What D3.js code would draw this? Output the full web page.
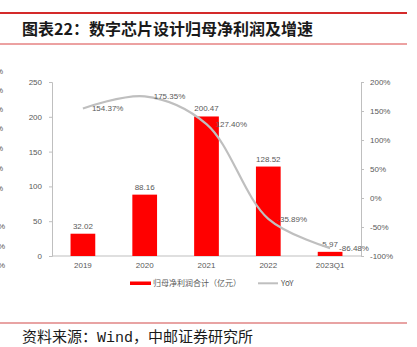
<!DOCTYPE html>
<html>
<head>
<meta charset="utf-8">
<script src="https://cdn.jsdelivr.net/npm/d3@7"></script>
<style>
  html, body { margin: 0; padding: 0; background: #fff; }
  svg { display: block; }
</style>
</head>
<body>
<script>
// Net profit attributable to parent (digital chip design) and YoY growth
const categories = ["2019", "2020", "2021", "2022", "2023Q1"];
const profit = [32.02, 88.16, 200.47, 128.52, 5.97];
const yoy = [154.37, 175.35, 127.40, -35.89, -86.48];
const leftTicks = [0, 50, 100, 150, 200, 250];
const rightTicks = [-100, -50, 0, 50, 100, 150, 200];
const edgeMarks = [71, 90, 109, 128, 148, 168, 188, 226, 246, 265];

const W = 417, H = 347;
const svg = d3.select("body").append("svg").attr("width", W).attr("height", H);

const textColor = "#595959";
const axisColor = "#BFBFBF";
const chartFont = "'Liberation Sans', Arial, sans-serif";

// partial labels along the left edge
svg.append("g").selectAll("text").data(edgeMarks).join("text")
  .attr("x", (d, i) => i < 7 ? -4 : -2)
  .attr("y", d => d + 3)
  .attr("font-family", chartFont).attr("font-size", 8).attr("fill", textColor)
  .text("%");

// header rules and title
svg.append("line").attr("x1", 0).attr("x2", 407).attr("y1", 13).attr("y2", 13)
  .attr("stroke", "#D42A2A").attr("stroke-width", 2);
svg.append("line").attr("x1", 0).attr("x2", 407).attr("y1", 44).attr("y2", 44)
  .attr("stroke", "#D94545").attr("stroke-width", 1);
svg.append("text").attr("x", 22).attr("y", 35)
  .attr("font-family", "'Noto Sans CJK SC', sans-serif").attr("font-weight", 700)
  .attr("font-size", 16).attr("fill", "#1a1a1a")
  .text("图表22：数字芯片设计归母净利润及增速");

// scales
const x = d3.scaleBand().domain(categories).range([52, 361]).paddingInner(0.6).paddingOuter(0.3);
const yL = d3.scaleLinear().domain([0, 250]).range([256, 82]);
const yR = d3.scaleLinear().domain([-100, 200]).range([256, 82]);
const cx = d => x(d) + x.bandwidth() / 2;

// axes
const gL = svg.append("g").attr("transform", "translate(52,0)")
  .call(d3.axisLeft(yL).tickValues(leftTicks).tickSize(3).tickPadding(7));
const gR = svg.append("g").attr("transform", "translate(361,0)")
  .call(d3.axisRight(yR).tickValues(rightTicks).tickSize(3).tickPadding(6)
    .tickFormat(d => d + "%"));
const gB = svg.append("g").attr("transform", "translate(0,256)")
  .call(d3.axisBottom(x).tickSize(0).tickPadding(6));
[gL, gR, gB].forEach(g => {
  g.selectAll("path, line").attr("stroke", axisColor);
  g.selectAll("text").attr("font-family", chartFont).attr("font-size", 8).attr("fill", textColor);
});
gB.select(".domain").attr("d", "M52,0H361");

// bars
const idx = d3.range(categories.length);
svg.append("g").selectAll("rect").data(idx).join("rect")
  .attr("x", i => x(categories[i]))
  .attr("width", x.bandwidth())
  .attr("y", i => yL(profit[i]))
  .attr("height", i => yL(0) - yL(profit[i]))
  .attr("fill", "#FF0000");

svg.append("g").selectAll("text").data(idx).join("text")
  .attr("x", i => cx(categories[i]))
  .attr("y", i => yL(profit[i]) - 5)
  .attr("text-anchor", "middle")
  .attr("font-family", chartFont).attr("font-size", 8).attr("fill", textColor)
  .text(i => profit[i].toFixed(2));

// YoY line
const line = d3.line()
  .x(i => cx(categories[i]))
  .y(i => yR(yoy[i]))
  .curve(d3.curveCatmullRom.alpha(0.5));
svg.append("path").datum(idx).attr("d", line)
  .attr("fill", "none").attr("stroke", "#BFBFBF").attr("stroke-width", 2.2);

svg.append("g").selectAll("text").data(idx).join("text")
  .attr("x", i => cx(categories[i]) + 9)
  .attr("y", i => yR(yoy[i]) + 3)
  .attr("font-family", chartFont).attr("font-size", 8).attr("fill", textColor)
  .text(i => yoy[i].toFixed(2) + "%");

// legend
const lg = svg.append("g").attr("font-family", "'Noto Sans CJK SC', sans-serif")
  .attr("font-size", 8).attr("fill", textColor);
lg.append("rect").attr("x", 130).attr("y", 281.5).attr("width", 21).attr("height", 3.5).attr("fill", "#FF0000");
lg.append("text").attr("x", 153).attr("y", 286).text("归母净利润合计（亿元）");
lg.append("line").attr("x1", 258).attr("x2", 278).attr("y1", 283.3).attr("y2", 283.3)
  .attr("stroke", "#BFBFBF").attr("stroke-width", 2);
lg.append("text").attr("x", 281).attr("y", 286).text("YoY");

// footer
svg.append("line").attr("x1", 0).attr("x2", 407).attr("y1", 323).attr("y2", 323)
  .attr("stroke", "#E08585").attr("stroke-width", 1.5);
svg.append("text").attr("x", 22).attr("y", 342)
  .attr("font-family", "'Liberation Mono', 'Noto Sans CJK SC', monospace")
  .attr("font-size", 15).attr("fill", "#1a1a1a")
  .text("资料来源：Wind，中邮证券研究所");
</script>
</body>
</html>
